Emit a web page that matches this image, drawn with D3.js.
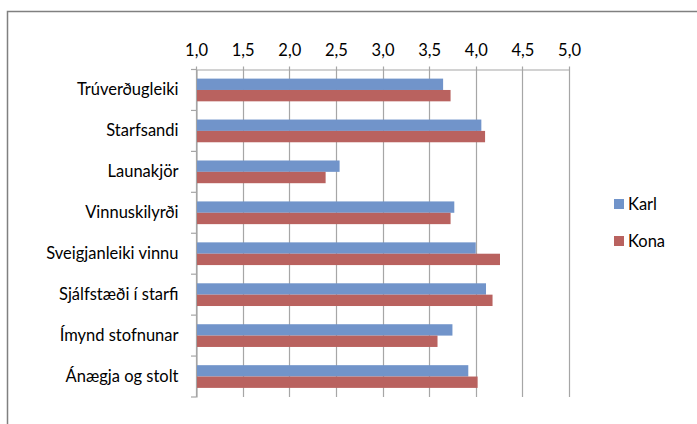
<!DOCTYPE html>
<html><head><meta charset="utf-8">
<script src="https://cdn.jsdelivr.net/npm/d3@7"></script>
<style>body{margin:0;background:#fff}svg{display:block}</style>
</head><body>
<script>
const categories = ["Trúverðugleiki","Starfsandi","Launakjör","Vinnuskilyrði","Sveigjanleiki vinnu","Sjálfstæði í starfi","Ímynd stofnunar","Ánægja og stolt"];
const seriesNames = ["Karl","Kona"];
const karl = [3.65, 4.06, 2.54, 3.77, 4.00, 4.11, 3.75, 3.92];
const kona = [3.73, 4.10, 2.39, 3.73, 4.26, 4.18, 3.59, 4.02];
const tickValues = [1.0,1.5,2.0,2.5,3.0,3.5,4.0,4.5,5.0];
const colors = ["#7194CA","#B9625F"];

(function(){
const W = 697, H = 424;
const font = "Lato, 'Open Sans', sans-serif";
const fs = 16.5;
const svg = d3.select("body").append("svg").attr("width", W).attr("height", H);

svg.append("rect").attr("x", 7.5).attr("y", 11.5).attr("width", 720).attr("height", 440)
  .attr("fill", "#fff").attr("stroke", "#808080").attr("stroke-width", 1.5);

const pL = 196, pR = 569, pT = 69.5, pB = 397;
const x = d3.scaleLinear().domain([1, 5]).range([pL, pR]);
const y = d3.scaleBand().domain(categories).range([pT, pB]).paddingInner(0.445).paddingOuter(0.2225);
const sub = d3.scaleBand().domain(seriesNames).range([0, y.bandwidth()]);

svg.append("g").selectAll("line").data(tickValues).join("line")
  .attr("x1", d => Math.round(x(d)) + 0.5).attr("x2", d => Math.round(x(d)) + 0.5)
  .attr("y1", pT - 3).attr("y2", pB)
  .attr("stroke", "#a6a6a6").attr("stroke-width", 1.2);

const ax = svg.append("g").attr("transform", `translate(0,${pT})`)
  .call(d3.axisTop(x).tickValues(tickValues).tickFormat(d => d3.format(".1f")(d).replace(".", ",")).tickSize(0).tickPadding(14));
ax.select(".domain").attr("stroke", "#a6a6a6").attr("stroke-width", 1.2);
ax.selectAll("text").attr("font-family", font).attr("font-size", fs).attr("fill", "#000");

const ay = svg.append("g").attr("transform", `translate(${pL + 0.5},0)`)
  .call(d3.axisLeft(y).tickSize(0).tickPadding(18));
ay.select(".domain").attr("stroke", "#a6a6a6").attr("stroke-width", 1.2);
ay.selectAll("text").attr("font-family", font).attr("font-size", fs).attr("fill", "#000");

const step = (pB - pT) / categories.length;
svg.append("g").selectAll("line").data(d3.range(categories.length + 1)).join("line")
  .attr("x1", pL - 5).attr("x2", pL + 0.5)
  .attr("y1", i => pT + i * step).attr("y2", i => pT + i * step)
  .attr("stroke", "#a6a6a6").attr("stroke-width", 1.2);

const data = [karl, kona];
seriesNames.forEach((s, si) => {
  svg.append("g").selectAll("rect").data(categories).join("rect")
    .attr("x", x(1) + 1)
    .attr("y", c => y(c) + sub(s))
    .attr("width", (c, i) => x(data[si][i]) - x(1) - 1)
    .attr("height", sub.bandwidth())
    .attr("fill", colors[si]);
});

const lg = svg.append("g");
seriesNames.forEach((s, i) => {
  const ly = 199 + i * 37;
  lg.append("rect").attr("x", 614).attr("y", ly).attr("width", 10).attr("height", 10).attr("fill", colors[i]);
  lg.append("text").attr("x", 628).attr("y", ly + 5).attr("dy", "0.35em")
    .attr("font-family", font).attr("font-size", fs).text(s);
});
})();
</script>
</body></html>
